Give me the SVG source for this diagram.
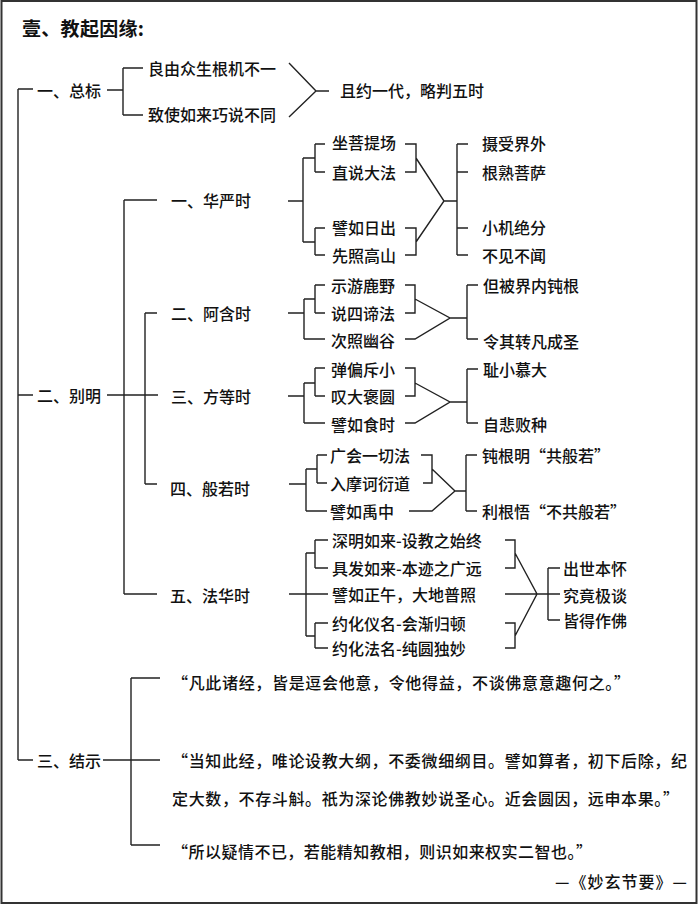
<svg xmlns="http://www.w3.org/2000/svg" width="699" height="905" viewBox="0 0 699 905">
<style>
.t{font-family:"Noto Sans CJK SC","Noto Sans CJK JP",sans-serif;font-size:16px;font-weight:500;fill:#111;dominant-baseline:central}
.h{font-size:19px;font-weight:bold}
.c{stroke:#222;stroke-width:1.4;fill:none}
</style>
<rect x="1.5" y="1" width="695" height="902" fill="#fff" stroke="#333" stroke-width="2"/>
<text class="t h" x="22" y="27" textLength="122" lengthAdjust="spacing">壹、教起因缘:</text>
<g id="connectors" class="c">
<path d="M18 89V760M18 89H33M18 395H33M18 760H33"/>
<path d="M107 90H123M123 68V115M123 68H143M123 115H143M289 63L316 91L289 117M316 91H329"/>
<path d="M107 395H158M124 200V594M124 200H157M124 594H157M145 313V484M145 313H157M145 484H157"/>
<path d="M288 201H303M303 158V242M303 158H315M315 144V172M315 144H325M315 172H325M303 242H315M315 228V255M315 228H325M315 255H325"/>
<path d="M405 144H416V172H405M405 228H416V255H405M416 158L444 201L416 242M444 201H457M457 144V255M457 144H468M457 172H468M457 228H468M457 255H468"/>
<path d="M288 313H304M304 299V339M304 299H315M315 285V313M315 285H325M315 313H325M304 339H325"/>
<path d="M405 285H415V313H405M415 299L450 318L415 339H405M450 318H467M467 285V339M467 285H478M467 339H478"/>
<path d="M288 396H304M304 383V423M304 383H315M315 368V396M315 368H325M315 396H325M304 423H325"/>
<path d="M405 368H415V396H405M415 383L450 402L415 423H405M450 402H467M467 369V423M467 369H478M467 423H478"/>
<path d="M289 484H306M306 469V511M306 469H317M317 455V483M317 455H327M317 483H327M306 511H327"/>
<path d="M421 455H432V483H423M432 469L455 491L432 511H409M455 491H466M466 455V511M466 455H477M466 511H477"/>
<path d="M289 594H328M306 553V636M306 553H315M315 540V568M315 540H328M315 568H328M306 636H315M315 623V648M315 623H328M315 648H328"/>
<path d="M505 540H515V568H505M505 623H515V648H505M515 553L537 594L515 636M505 594H560M548 568V620M548 568H560M548 620H560"/>
<path d="M103 760H160M131 678V845M131 678H160M131 845H160"/>
</g>
<g id="n-zongbiao"><text class="t" x="37" y="90">一、总标</text></g>
<g id="n-genji"><text class="t" x="148" y="68">良由众生根机不一</text></g>
<g id="n-qiaoshuo"><text class="t" x="148" y="114">致使如来巧说不同</text></g>
<g id="n-wushi"><text class="t" x="340" y="90">且约一代，略判五时</text></g>
<g id="n-bieming"><text class="t" x="37" y="395">二、别明</text></g>
<g id="n-huayan"><text class="t" x="171" y="200">一、华严时</text></g>
<g id="n-hy1"><text class="t" x="332" y="142">坐菩提场</text></g>
<g id="n-hy2"><text class="t" x="332" y="172">直说大法</text></g>
<g id="n-hy3"><text class="t" x="332" y="227">譬如日出</text></g>
<g id="n-hy4"><text class="t" x="332" y="255">先照高山</text></g>
<g id="n-hy5"><text class="t" x="482" y="143">摄受界外</text></g>
<g id="n-hy6"><text class="t" x="482" y="172">根熟菩萨</text></g>
<g id="n-hy7"><text class="t" x="482" y="227">小机绝分</text></g>
<g id="n-hy8"><text class="t" x="482" y="255">不见不闻</text></g>
<g id="n-ahan"><text class="t" x="171" y="313">二、阿含时</text></g>
<g id="n-ah1"><text class="t" x="331" y="285">示游鹿野</text></g>
<g id="n-ah2"><text class="t" x="331" y="313">说四谛法</text></g>
<g id="n-ah3"><text class="t" x="331" y="340">次照幽谷</text></g>
<g id="n-ah4"><text class="t" x="483" y="285">但被界内钝根</text></g>
<g id="n-ah5"><text class="t" x="483" y="341">令其转凡成圣</text></g>
<g id="n-fangdeng"><text class="t" x="171" y="396">三、方等时</text></g>
<g id="n-fd1"><text class="t" x="331" y="369">弹偏斥小</text></g>
<g id="n-fd2"><text class="t" x="331" y="396">叹大褒圆</text></g>
<g id="n-fd3"><text class="t" x="331" y="424">譬如食时</text></g>
<g id="n-fd4"><text class="t" x="483" y="369">耻小慕大</text></g>
<g id="n-fd5"><text class="t" x="483" y="424">自悲败种</text></g>
<g id="n-bore"><text class="t" x="170" y="488">四、般若时</text></g>
<g id="n-br1"><text class="t" x="330" y="455">广会一切法</text></g>
<g id="n-br2"><text class="t" x="330" y="483">入摩诃衍道</text></g>
<g id="n-br3"><text class="t" x="330" y="511">譬如禹中</text></g>
<g id="n-br4"><text class="t" x="482" y="455">钝根明“共般若”</text></g>
<g id="n-br5"><text class="t" x="482" y="511">利根悟“不共般若”</text></g>
<g id="n-fahua"><text class="t" x="170" y="595">五、法华时</text></g>
<g id="n-fh1"><text class="t" x="332" y="540">深明如来-设教之始终</text></g>
<g id="n-fh2"><text class="t" x="332" y="568">具发如来-本迹之广远</text></g>
<g id="n-fh3"><text class="t" x="332" y="594">譬如正午，大地普照</text></g>
<g id="n-fh4"><text class="t" x="332" y="623">约化仪名-会渐归顿</text></g>
<g id="n-fh5"><text class="t" x="332" y="648">约化法名-纯圆独妙</text></g>
<g id="n-fh6"><text class="t" x="563" y="568">出世本怀</text></g>
<g id="n-fh7"><text class="t" x="563" y="595">究竟极谈</text></g>
<g id="n-fh8"><text class="t" x="563" y="620">皆得作佛</text></g>
<g id="n-jieshi"><text class="t" x="37" y="760">三、结示</text></g>
<g id="n-js1"><text class="t" x="172" y="682" textLength="458" lengthAdjust="spacing">“凡此诸经，皆是逗会他意，令他得益，不谈佛意意趣何之。”</text></g>
<g id="n-js2"><text class="t" x="172" y="760" textLength="515" lengthAdjust="spacing">“当知此经，唯论设教大纲，不委微细纲目。譬如算者，初下后除，纪</text><text class="t" x="172" y="798" textLength="507" lengthAdjust="spacing">定大数，不存斗斛。祇为深论佛教妙说圣心。近会圆因，远申本果。”</text></g>
<g id="n-js3"><text class="t" x="172" y="851" textLength="420" lengthAdjust="spacing">“所以疑情不已，若能精知教相，则识如来权实二智也。”</text></g>
<g id="n-source"><text class="t" x="555" y="881" textLength="132" lengthAdjust="spacing">—《妙玄节要》—</text></g>
</svg>
